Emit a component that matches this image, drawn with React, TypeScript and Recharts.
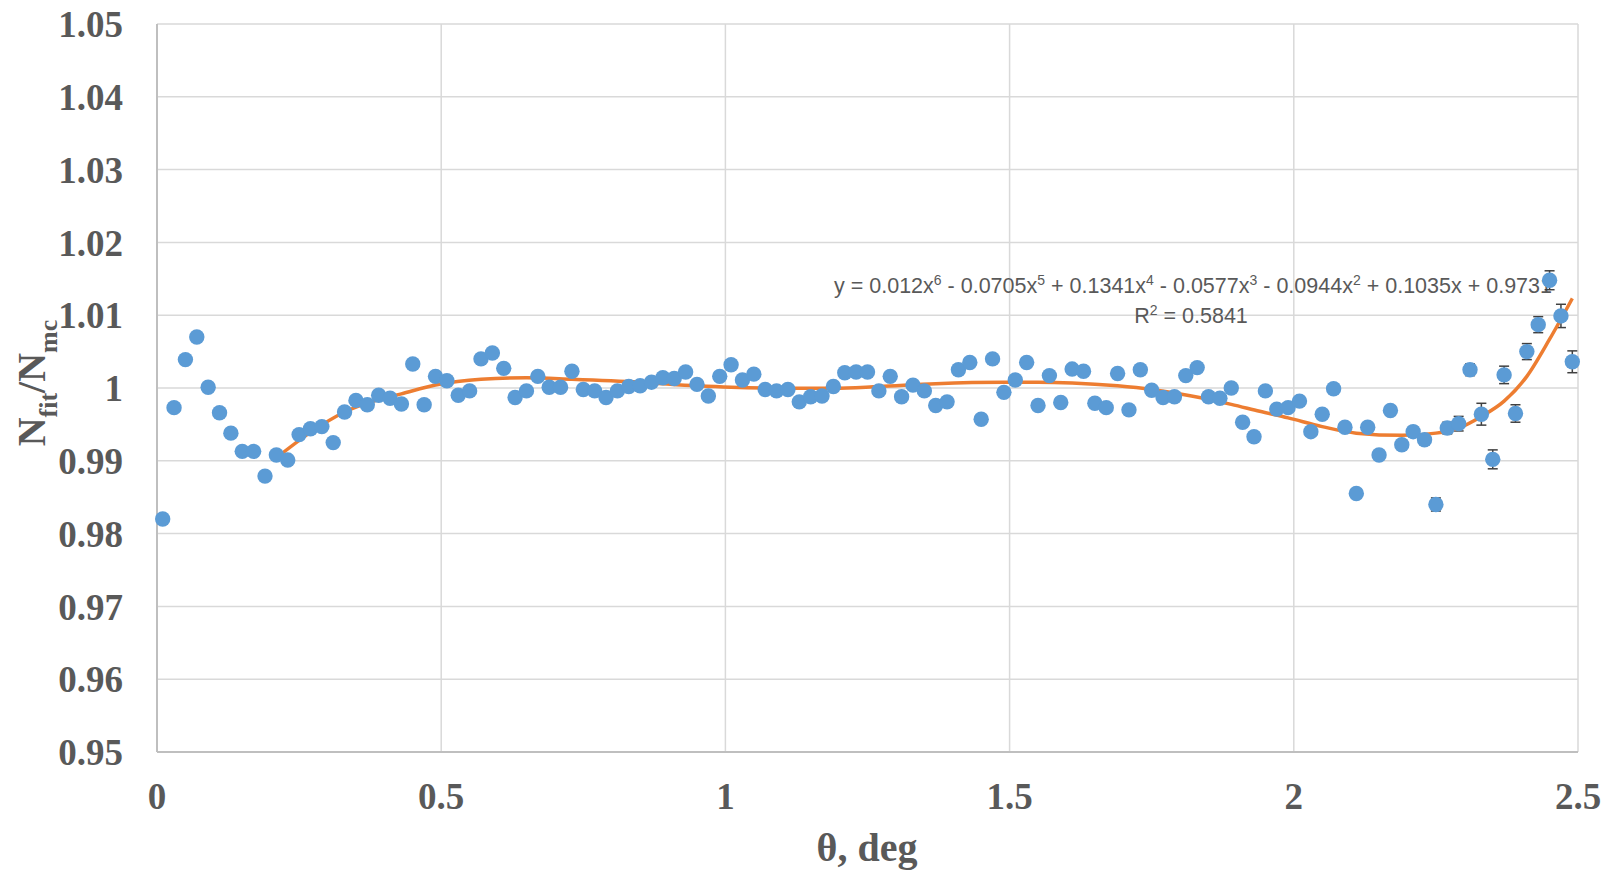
import { ComposedChart, Scatter, Line, XAxis, YAxis, CartesianGrid, ErrorBar, Customized } from 'recharts';

// theta bins, deg
const theta = [
  0.01, 0.03, 0.05, 0.07, 0.09, 0.11, 0.13, 0.15, 0.17, 0.19,
  0.21, 0.23, 0.25, 0.27, 0.29, 0.31, 0.33, 0.35, 0.37, 0.39,
  0.41, 0.43, 0.45, 0.47, 0.49, 0.51, 0.53, 0.55, 0.57, 0.59,
  0.61, 0.63, 0.65, 0.67, 0.69, 0.71, 0.73, 0.75, 0.77, 0.79,
  0.81, 0.83, 0.85, 0.87, 0.89, 0.91, 0.93, 0.95, 0.97, 0.99,
  1.01, 1.03, 1.05, 1.07, 1.09, 1.11, 1.13, 1.15, 1.17, 1.19,
  1.21, 1.23, 1.25, 1.27, 1.29, 1.31, 1.33, 1.35, 1.37, 1.39,
  1.41, 1.43, 1.45, 1.47, 1.49, 1.51, 1.53, 1.55, 1.57, 1.59,
  1.61, 1.63, 1.65, 1.67, 1.69, 1.71, 1.73, 1.75, 1.77, 1.79,
  1.81, 1.83, 1.85, 1.87, 1.89, 1.91, 1.93, 1.95, 1.97, 1.99,
  2.01, 2.03, 2.05, 2.07, 2.09, 2.11, 2.13, 2.15, 2.17, 2.19,
  2.21, 2.23, 2.25, 2.27, 2.29, 2.31, 2.33, 2.35, 2.37, 2.39,
  2.41, 2.43, 2.45, 2.47, 2.49,
];

// N_fit / N_mc
const ratio = [
  0.9820, 0.9973, 1.0039, 1.0070, 1.0001, 0.9966, 0.9938, 0.9913, 0.9913, 0.9879,
  0.9908, 0.9901, 0.9936, 0.9944, 0.9947, 0.9925, 0.9967, 0.9983, 0.9977, 0.9990,
  0.9986, 0.9978, 1.0033, 0.9977, 1.0016, 1.0010, 0.9990, 0.9996, 1.0040, 1.0048,
  1.0027, 0.9987, 0.9996, 1.0016, 1.0001, 1.0001, 1.0023, 0.9998, 0.9996, 0.9987,
  0.9996, 1.0002, 1.0003, 1.0008, 1.0014, 1.0013, 1.0022, 1.0005, 0.9989, 1.0016,
  1.0032, 1.0011, 1.0019, 0.9998, 0.9996, 0.9998, 0.9981, 0.9988, 0.9989, 1.0002,
  1.0021, 1.0022, 1.0022, 0.9996, 1.0016, 0.9988, 1.0004, 0.9996, 0.9976, 0.9981,
  1.0025, 1.0035, 0.9957, 1.0040, 0.9994, 1.0011, 1.0035, 0.9976, 1.0017, 0.9980,
  1.0026, 1.0023, 0.9979, 0.9973, 1.0020, 0.9970, 1.0025, 0.9997, 0.9987, 0.9988,
  1.0017, 1.0028, 0.9988, 0.9986, 1.0000, 0.9953, 0.9933, 0.9996, 0.9971, 0.9973,
  0.9982, 0.9940, 0.9964, 0.9999, 0.9946, 0.9855, 0.9946, 0.9908, 0.9969, 0.9922,
  0.9940, 0.9929, 0.9840, 0.9945, 0.9951, 1.0025, 0.9964, 0.9902, 1.0018, 0.9965,
  1.0050, 1.0087, 1.0148, 1.0099, 1.0036,
];

const ratioErr = [
  0.0004, 0.0004, 0.0004, 0.0004, 0.0004, 0.0004, 0.0004, 0.0004, 0.0004, 0.0004,
  0.0004, 0.0004, 0.0004, 0.0004, 0.0004, 0.0004, 0.0004, 0.0004, 0.0004, 0.0004,
  0.0004, 0.0004, 0.0004, 0.0004, 0.0004, 0.0004, 0.0004, 0.0004, 0.0004, 0.0004,
  0.0004, 0.0004, 0.0004, 0.0004, 0.0004, 0.0004, 0.0004, 0.0004, 0.0004, 0.0004,
  0.0004, 0.0004, 0.0004, 0.0004, 0.0004, 0.0004, 0.0004, 0.0004, 0.0004, 0.0004,
  0.0004, 0.0004, 0.0004, 0.0004, 0.0004, 0.0004, 0.0004, 0.0004, 0.0004, 0.0004,
  0.0004, 0.0004, 0.0004, 0.0004, 0.0004, 0.0004, 0.0004, 0.0004, 0.0004, 0.0004,
  0.0005, 0.0005, 0.0005, 0.0005, 0.0005, 0.0005, 0.0005, 0.0005, 0.0005, 0.0005,
  0.0005, 0.0005, 0.0005, 0.0005, 0.0005, 0.0005, 0.0005, 0.0005, 0.0005, 0.0005,
  0.0006, 0.0006, 0.0006, 0.0006, 0.0006, 0.0006, 0.0006, 0.0006, 0.0006, 0.0006,
  0.0006, 0.0006, 0.0006, 0.0006, 0.0006, 0.0006, 0.0006, 0.0006, 0.0006, 0.0006,
  0.0007, 0.0007, 0.0009, 0.0008, 0.0010, 0.0008, 0.0015, 0.0013, 0.0012, 0.0012,
  0.0011, 0.0011, 0.0013, 0.0016, 0.0015,
];

// 6th order polynomial trendline
const trendTheta = [
  0.21, 0.27, 0.33, 0.39, 0.43, 0.49, 0.57, 0.65, 0.73, 0.85, 0.95, 1.01, 1.13, 1.19,
  1.27, 1.37, 1.49, 1.55, 1.61, 1.69, 1.75, 1.82, 1.89, 1.94, 1.99, 2.05, 2.11, 2.19,
  2.25, 2.29, 2.33, 2.37, 2.41, 2.45, 2.49,
];
const trendRatio = [
  0.9904, 0.9939, 0.9967, 0.9984, 0.9992, 1.0004, 1.0012, 1.0014, 1.0012, 1.0008, 1.0003, 1.0001, 0.99995, 0.99995,
  1.0002, 1.0006, 1.0008, 1.0008, 1.0007, 1.0003, 0.9998, 0.9989, 0.99775, 0.9968, 0.9959, 0.9947, 0.9938, 0.9935,
  0.9938, 0.9945, 0.9961, 0.9982, 1.0016, 1.0067, 1.0123,
];

const xTicks = [0, 0.5, 1, 1.5, 2, 2.5];
const yTicks = [0.95, 0.96, 0.97, 0.98, 0.99, 1.0, 1.01, 1.02, 1.03, 1.04, 1.05];

const equation = [
  ['y = 0.012x', '6'],
  [' - 0.0705x', '5'],
  [' + 0.1341x', '4'],
  [' - 0.0577x', '3'],
  [' - 0.0944x', '2'],
  [' + 0.1035x + 0.9731', ''],
];

const points = theta.map((x, i) => ({ x, y: ratio[i], err: ratioErr[i] }));
const trend = trendTheta.map((x, i) => ({ x, fit: trendRatio[i] }));

const serif = '"Liberation Serif", "Times New Roman", serif';
const sans = '"Liberation Sans", Arial, sans-serif';
const grey = '#595959';

const tickStyle = { fontFamily: serif, fontSize: 37, fontWeight: 'bold', fill: grey };

const Dot = (props: any) => <circle cx={props.cx} cy={props.cy} r={7.7} fill="#5B9BD5" />;

const Annotations = () => (
  <g>
    <text x={867} y={861} textAnchor="middle" fontFamily={serif} fontSize={40} fontWeight="bold" fill={grey}>
      θ, deg
    </text>
    <text
      transform="translate(45,383) rotate(-90)"
      textAnchor="middle"
      fontFamily={serif}
      fontSize={40}
      fontWeight="bold"
      fill={grey}
    >
      N
      <tspan fontSize={26} dy={12}>fit</tspan>
      <tspan dy={-12}>/N</tspan>
      <tspan fontSize={26} dy={12}>mc</tspan>
    </text>
    <text x={1193} y={293} textAnchor="middle" fontFamily={sans} fontSize={21.5} fill={grey}>
      {equation.map(([base, sup], i) => (
        <tspan key={i}>
          <tspan dy={i === 0 ? 0 : 8}>{base}</tspan>
          {sup && <tspan fontSize={14} dy={-8}>{sup}</tspan>}
        </tspan>
      ))}
    </text>
    <text x={1191} y={323} textAnchor="middle" fontFamily={sans} fontSize={21.5} fill={grey}>
      R<tspan fontSize={14} dy={-8}>2</tspan>
      <tspan dy={8}> = 0.5841</tspan>
    </text>
  </g>
);

export default function App() {
  return (
    <div style={{ position: 'absolute', left: 0, top: 0, background: '#fff' }}>
      <ComposedChart width={1616} height={874} margin={{ top: 24, right: 38, left: 0, bottom: 0 }}>
        <CartesianGrid stroke="#D9D9D9" strokeWidth={1.5} />
        <XAxis
          type="number"
          dataKey="x"
          domain={[0, 2.5]}
          ticks={xTicks}
          height={122}
          tickLine={false}
          tickSize={0}
          tickMargin={31}
          axisLine={{ stroke: '#BFBFBF', strokeWidth: 2 }}
          tick={tickStyle}
          tickFormatter={(v: number) => String(v)}
        />
        <YAxis
          type="number"
          domain={[0.95, 1.05]}
          ticks={yTicks}
          width={157}
          tickLine={false}
          tickSize={0}
          tickMargin={34}
          axisLine={{ stroke: '#BFBFBF', strokeWidth: 2 }}
          tick={tickStyle}
          tickFormatter={(v: number) => String(Number(v.toFixed(2)))}
          allowDataOverflow
        />
        <Scatter data={points} dataKey="y" shape={Dot} isAnimationActive={false}>
          <ErrorBar dataKey="err" direction="y" width={5} stroke="#404040" strokeWidth={1.5} />
        </Scatter>
        <Line
          data={trend}
          dataKey="fit"
          type="monotone"
          stroke="#ED7D31"
          strokeWidth={3.5}
          dot={false}
          activeDot={false}
          isAnimationActive={false}
        />
        <Customized component={Annotations} />
      </ComposedChart>
    </div>
  );
}
